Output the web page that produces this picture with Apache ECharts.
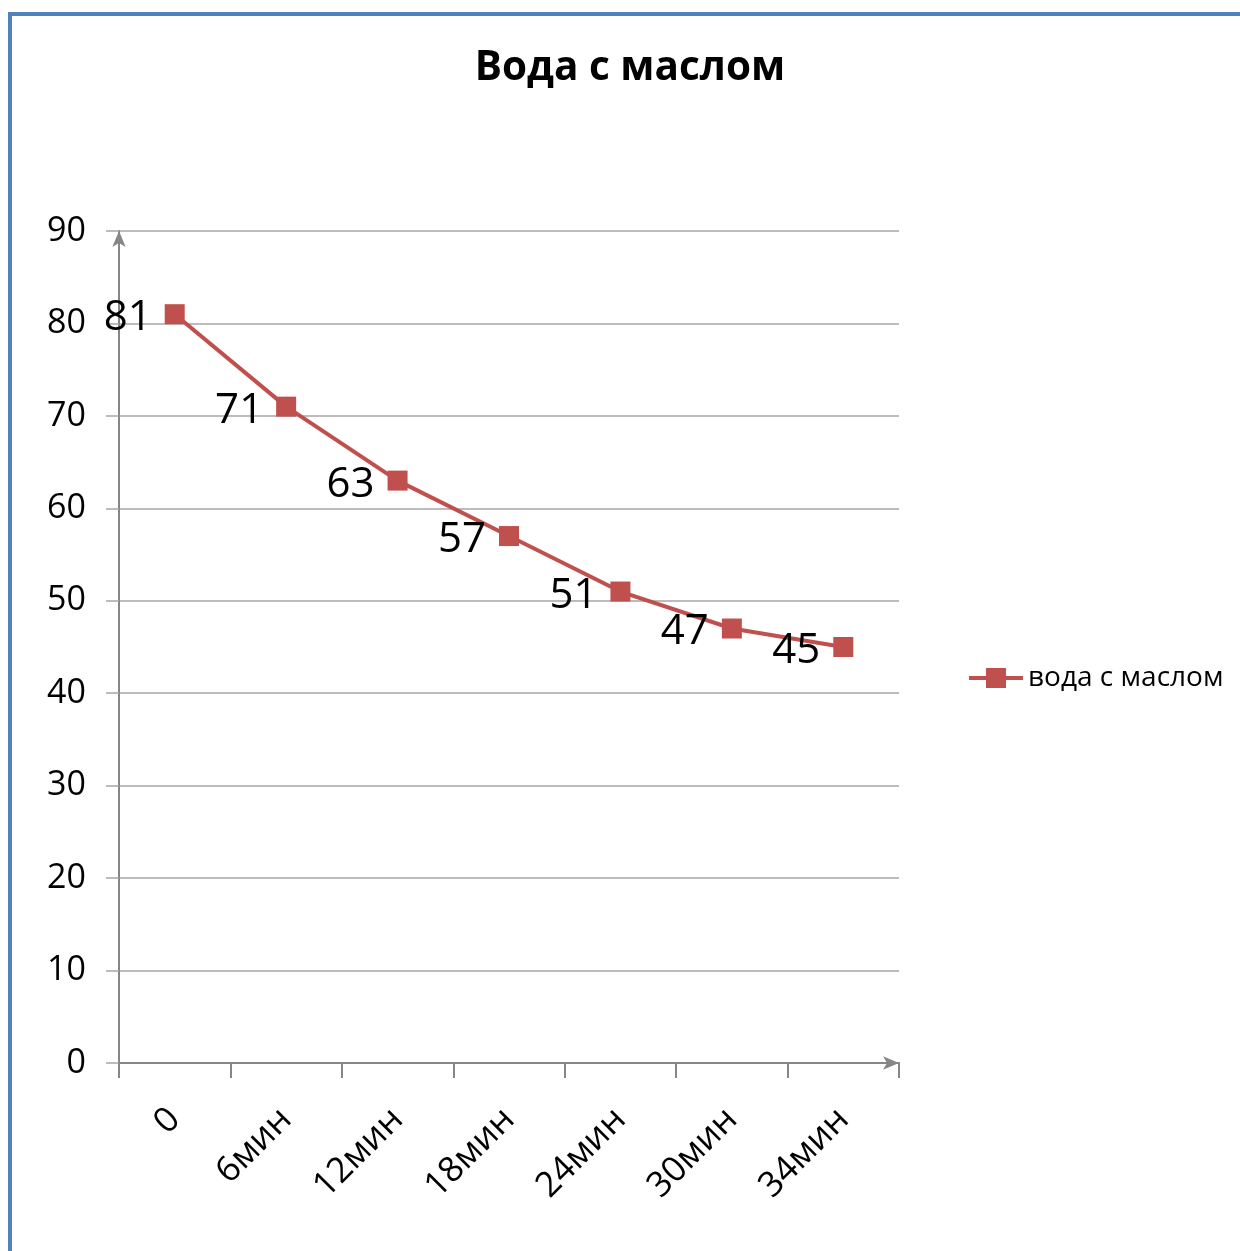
<!DOCTYPE html>
<html><head><meta charset="utf-8">
<script src="https://cdn.jsdelivr.net/npm/echarts@6/dist/echarts.min.js"></script>
<style>html,body{margin:0;padding:0;background:#fff}#c{width:1240px;height:1251px}</style>
</head><body><div id="c"></div>
<script>
const categories = ['0', '6мин', '12мин', '18мин', '24мин', '30мин', '34мин'];
const values = [81, 71, 63, 57, 51, 47, 45];
const seriesName = 'вода с маслом';
const titleText = 'Вода с маслом';

const chart = echarts.init(document.getElementById('c'));
const font = '"Open Sans", "Noto Sans", sans-serif';
chart.setOption({
  backgroundColor: '#fff',
  animation: false,
  title: {
    text: titleText, left: 625, top: 43, textAlign: 'center',
    textStyle: { fontFamily: font, fontWeight: 'bold', fontSize: 40.5, color: '#000' }
  },
  legend: {
    data: [{ name: seriesName,
      icon: 'path://M0,8 L17,8 L17,0 L37,0 L37,8 L54,8 L54,12 L37,12 L37,20 L17,20 L17,12 L0,12 Z',
      itemStyle: { color: '#C0504D' } }],
    left: 964, top: 659, itemWidth: 54, itemHeight: 20, itemGap: 6,
    textStyle: { fontFamily: font, fontSize: 28, color: '#000' }
  },
  grid: { left: 119, right: 341, top: 231, bottom: 188, containLabel: false },
  xAxis: {
    type: 'category', data: categories, boundaryGap: true,
    axisLine: { lineStyle: { color: '#868686', width: 2 }, symbol: ['none', 'arrow'], symbolSize: [10, 16] },
    axisTick: { show: true, length: 15, lineStyle: { color: '#868686', width: 2 } },
    axisLabel: { rotate: 45, margin: 51, fontFamily: font, fontSize: 35, color: '#000' },
    splitLine: { show: false }
  },
  yAxis: {
    type: 'value', min: 0, max: 90, interval: 10,
    axisLine: { show: true, lineStyle: { color: '#868686', width: 2 }, symbol: ['none', 'arrow'], symbolSize: [10, 16] },
    axisTick: { show: true, length: 13, lineStyle: { color: '#a6a6a6', width: 1.5 } },
    axisLabel: { margin: 33, fontFamily: font, fontSize: 34, color: '#000' },
    splitLine: { show: true, lineStyle: { color: '#a6a6a6', width: 1.5 } }
  },
  series: [{
    name: seriesName, type: 'line', data: values,
    symbol: 'rect', symbolSize: 20,
    itemStyle: { color: '#C0504D' },
    lineStyle: { color: '#C0504D', width: 4 },
    label: { show: true, position: 'left', distance: 13, offset: [0, 4], fontFamily: font, fontSize: 42, color: '#000' }
  }],
  graphic: [{
    type: 'polyline', z: 100,
    shape: { points: [[10, 1251], [10, 14], [1240, 14]] },
    style: { stroke: '#4F81BD', lineWidth: 4, fill: null }
  }]
});
</script></body></html>
